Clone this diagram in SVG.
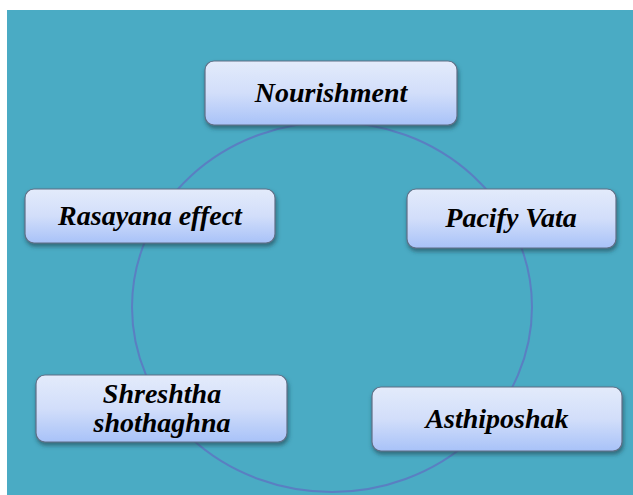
<svg xmlns="http://www.w3.org/2000/svg" width="633" height="495" viewBox="0 0 633 495">
<style>
.box{fill:url(#g);stroke:#5f6f86;stroke-width:1.2;filter:url(#sh)}
.t{font-family:"Liberation Serif","Times New Roman",serif;font-weight:bold;font-style:italic;font-size:28px;fill:#000;text-anchor:middle}
.conn{fill:none;stroke:#5a7fc2;stroke-width:2}
</style>
<defs>
<linearGradient id="g" x1="0" y1="0" x2="0" y2="1">
<stop offset="0" stop-color="#e3ebfb"/>
<stop offset="0.5" stop-color="#d2defa"/>
<stop offset="1" stop-color="#a8c2f8"/>
</linearGradient>
<filter id="sh" x="-10%" y="-20%" width="120%" height="150%">
<feDropShadow dx="1" dy="3" stdDeviation="2" flood-color="#1d3b47" flood-opacity="0.6"/>
</filter>
</defs>
<rect x="7" y="10" width="626" height="485" fill="#4aabc4"/>
<g id="connectors">
<ellipse class="conn" cx="332" cy="307" rx="200" ry="185"/>
</g>
<g id="nourishment">
<rect class="box" x="205" y="61" width="252" height="64" rx="9"/>
<text class="t" x="331" y="102">Nourishment</text>
</g>
<g id="pacify-vata">
<rect class="box" x="407" y="189" width="209" height="59" rx="9"/>
<text class="t" x="511" y="227">Pacify Vata</text>
</g>
<g id="asthiposhak">
<rect class="box" x="372" y="387" width="250" height="64" rx="9"/>
<text class="t" x="497" y="428">Asthiposhak</text>
</g>
<g id="shreshtha-shothaghna">
<rect class="box" x="36" y="375" width="251" height="67" rx="9"/>
<text class="t" x="162" y="403">Shreshtha</text>
<text class="t" x="162" y="432">shothaghna</text>
</g>
<g id="rasayana-effect">
<rect class="box" x="25" y="189" width="250" height="54" rx="9"/>
<text class="t" x="150" y="225">Rasayana effect</text>
</g>
</svg>
